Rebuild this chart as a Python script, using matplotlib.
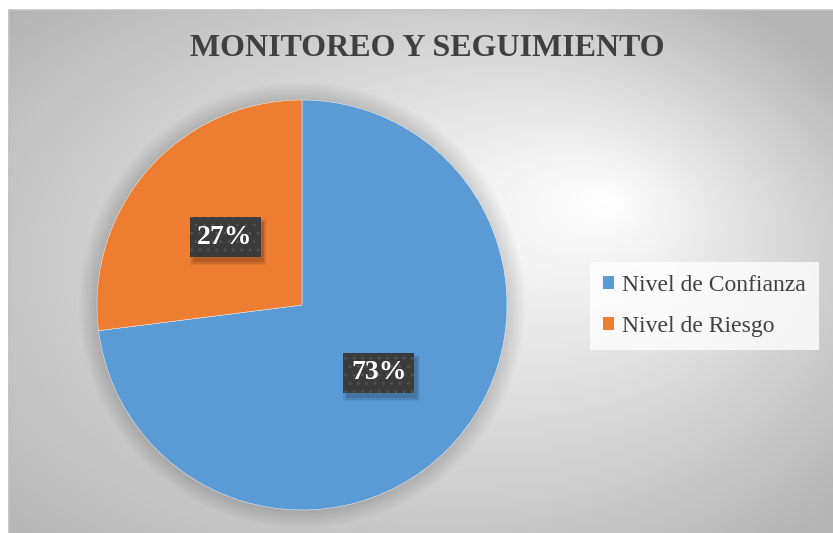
import numpy as np
import matplotlib.pyplot as plt
from matplotlib.patches import Patch, Circle, Rectangle
from matplotlib import transforms

# Chart data
categories = ["Nivel de Confianza", "Nivel de Riesgo"]
shares = [73, 27]
colors = ["#5B9BD5", "#ED7D31"]
title = "MONITOREO Y SEGUIMIENTO"

plt.rcParams['font.family'] = ['Liberation Serif', 'DejaVu Serif']

W, H = 833, 533
fig = plt.figure(figsize=(W / 100, H / 100), dpi=100)

# ---- background: off-centre radial grey gradient inside the chart frame ----
bg = fig.add_axes([0, 0, 1, 1])
bg.set_axis_off()
yy, xx = np.mgrid[0:H, 0:W] + 0.5
x0, y0, x1, y1 = 9, 10, W, H
cx, cy = (x0 + x1) / 2, (y0 + y1) / 2
A, B = (x1 - x0) / 2 * 1.15, (y1 - y0) / 2 * 1.15
fx, fy = 610, 200
f = np.array([(fx - cx) / A, (fy - cy) / B])
dx = (xx - fx) / A
dy = (yy - fy) / B
dd = dx * dx + dy * dy
fd = f[0] * dx + f[1] * dy
ff = f @ f
u = (-fd + np.sqrt(fd * fd - dd * (ff - 1))) / np.maximum(dd, 1e-12)
t = np.clip(1 / np.maximum(u, 1e-9), 0, 1.2)
v = 255 - 62 * t
img = np.full((H, W), 255.0)
inside = (xx >= x0) & (yy >= y0)
img[inside] = v[inside]
rgb = np.dstack([img] * 3) / 255
bg.imshow(rgb, extent=[0, W, H, 0], aspect='auto', interpolation='bilinear')
bg.plot([x0, x0], [y0, H], color='#bdbdbd', lw=1.2)
bg.plot([x0, W], [y0, y0], color='#c4c4c4', lw=1.2)
bg.set_xlim(0, W)
bg.set_ylim(H, 0)

# ---- title ----
fig.text(427 / W, 1 - 49 / H, title, ha='center', va='center',
         fontsize=23, fontweight='bold', color='#404040')

# ---- pie ----
cxp, cyp, R = 302, 305, 205
ax = fig.add_axes([(cxp - R) / W, (H - cyp - R) / H, 2 * R / W, 2 * R / H])
# soft shadow under the pie
for k in range(12):
    ax.add_patch(Circle((0.0, 0.0), 1.0 + 0.008 * k, color='black',
                        alpha=0.012, lw=0, clip_on=False, zorder=0))
wedges, texts, autotexts = ax.pie(
    shares, colors=colors, startangle=90, counterclock=False,
    autopct=lambda p: f"{p:.0f}%", pctdistance=0.5,
    wedgeprops=dict(edgecolor='white', linewidth=0.3, zorder=2))
ax.set_xlim(-1, 1)
ax.set_ylim(-1, 1)
ax.set_axis_off()

for at in autotexts:
    at.set_fontsize(20)
    at.set_fontweight('bold')
    at.set_color('white')
    at.set_zorder(6)
    at.set_bbox(dict(boxstyle='square,pad=0.28', fc='#3b3b3b', ec='#505050',
                     hatch='..', lw=0))

# drop shadows behind the label boxes, placed from the rendered box extents
fig.canvas.draw()
for at in autotexts:
    ext = at.get_bbox_patch().get_window_extent()
    for grow, a in [(3, 0.06), (1.5, 0.08), (0, 0.12)]:
        ax.add_patch(Rectangle((ext.x0 + 3 - grow, ext.y0 - 5 - grow),
                               ext.width + 2 * grow, ext.height + 2 * grow,
                               transform=transforms.IdentityTransform(),
                               fc='black', alpha=a, lw=0, zorder=5, clip_on=False))

# ---- legend ----
handles = [Patch(facecolor=c, edgecolor='none') for c in colors]
leg = fig.legend(handles, categories, loc='upper left',
                 bbox_to_anchor=(590 / W, 1 - 262 / H), borderaxespad=0,
                 prop=dict(family='Liberation Serif', size=17),
                 handlelength=0.45, handleheight=0.45, handletextpad=0.35,
                 labelspacing=0.85, borderpad=0.55, frameon=True, fancybox=False)
leg.get_frame().set_facecolor((1, 1, 1, 0.35))
leg.get_frame().set_edgecolor('none')
for txt in leg.get_texts():
    txt.set_color('#404040')

fig.savefig('out.png', dpi=100)
